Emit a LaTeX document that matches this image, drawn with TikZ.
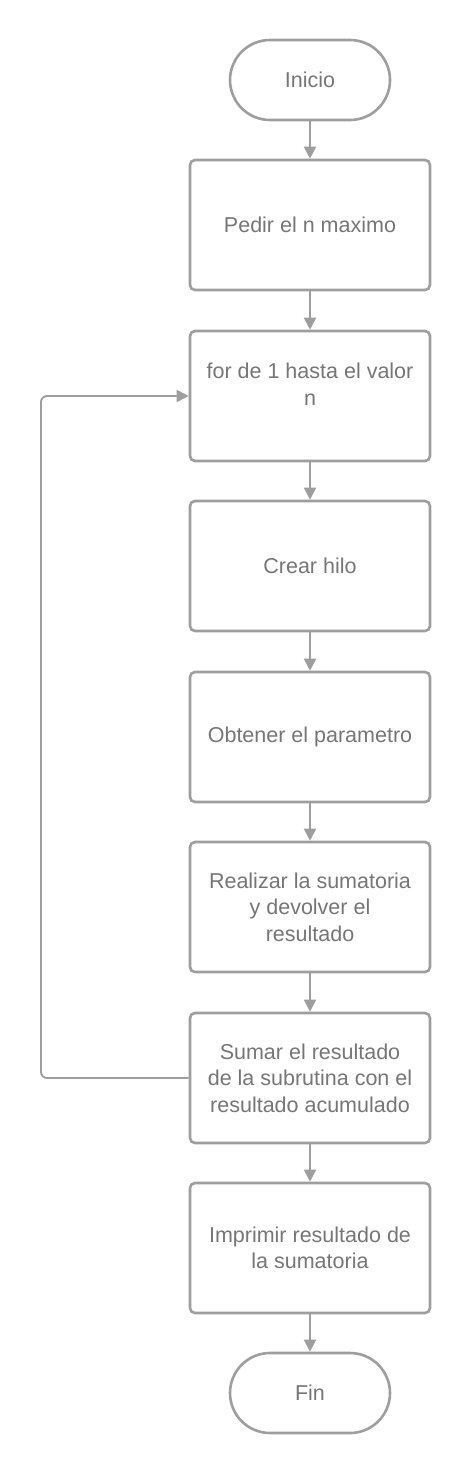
\documentclass[tikz,border=0pt]{standalone}
\usepackage{fontspec}
\setmainfont{Liberation Sans}
\usetikzlibrary{arrows.meta}
\definecolor{linegray}{HTML}{9E9E9E}
\definecolor{textgray}{HTML}{767676}
\begin{document}
\begin{tikzpicture}[x=1pt,y=-1pt,
  stepbox/.style={draw=linegray,line width=2.6pt,rounded corners=5pt,fill=white,
    minimum width=240pt,minimum height=130pt,inner sep=0pt,align=center,
    text=textgray,font=\fontsize{21.5}{26.5}\selectfont},
  termbox/.style={draw=linegray,line width=2.6pt,rounded corners=40pt,fill=white,
    minimum width=160pt,minimum height=80pt,inner sep=0pt,align=center,
    text=textgray,font=\fontsize{21.5}{26.5}\selectfont},
  conn/.style={draw=linegray,line width=1.9pt,-{Triangle[length=12pt,width=12pt]}}]
\useasboundingbox (0,0) rectangle (470,1475);
\node[termbox] (ini) at (310,80) {Inicio};
\node[stepbox] (b1) at (310,225) {Pedir el n maximo};
\node[stepbox] (b2) at (310,396) {};
\node[text=textgray,font=\fontsize{21.5}{26.5}\selectfont,align=center] (t2) at (310,384) {for de 1 hasta el valor\\n};
\node[stepbox] (b3) at (310,566) {Crear hilo};
\node[stepbox] (b4) at (310,737) {Obtener el parametro};
\node[stepbox] (b5) at (310,907) {Realizar la sumatoria\\y devolver el\\resultado};
\node[stepbox] (b6) at (310,1078) {Sumar el resultado\\de la subrutina con el\\resultado acumulado};
\node[stepbox] (b7) at (310,1248) {Imprimir resultado de\\la sumatoria};
\node[termbox] (fin) at (310,1393) {Fin};
\coordinate (lb) at (41,1078);
\coordinate (lt) at (41,396);
\draw[conn] (ini) -- (b1);
\draw[conn] (b1) -- (b2);
\draw[conn] (b2) -- (b3);
\draw[conn] (b3) -- (b4);
\draw[conn] (b4) -- (b5);
\draw[conn] (b5) -- (b6);
\draw[conn] (b6) -- (b7);
\draw[conn] (b7) -- (fin);
\draw[conn,rounded corners=6pt] (b6.west) -- (lb) -- (lt) -- (b2.west);
\end{tikzpicture}
\end{document}
